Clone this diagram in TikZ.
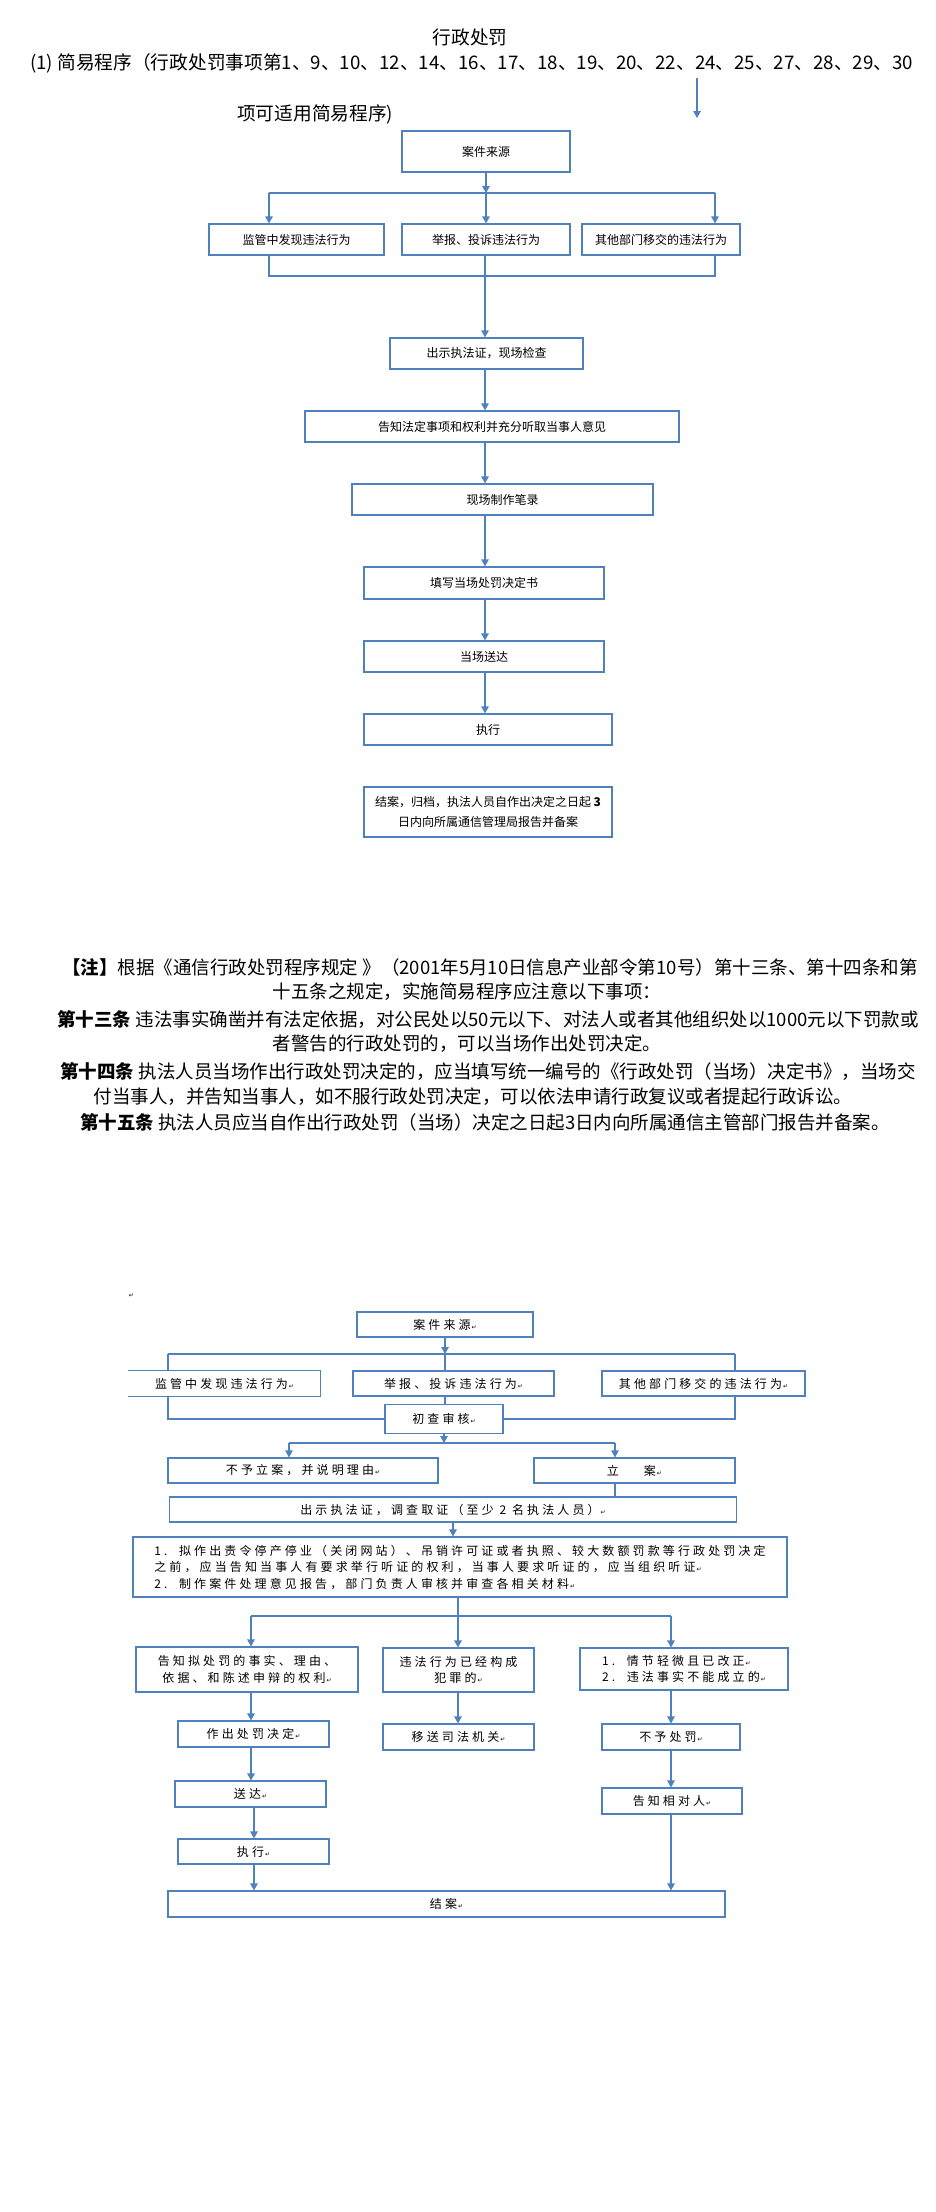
\documentclass[tikz,border=0pt]{standalone}
\usepackage{fontspec}
\setmainfont{Noto Sans CJK SC}
\newfontfamily\widecjk[LetterSpace=26]{Noto Sans CJK SC}
\newfontfamily\symfont{DejaVu Sans}
\usetikzlibrary{arrows.meta}
\definecolor{boxblue}{HTML}{4F81BD}
\newcommand\fsz[2]{\fontsize{#1pt}{#2pt}\selectfont}
\newcommand\parmk{{\symfont\fontsize{6pt}{6pt}\selectfont\,↵}}
\tikzset{
  txt/.style={inner sep=0pt},
  headtext/.style={inner sep=0pt, font=\fsz{18.7}{22}},
  notetext/.style={inner sep=0pt, font=\fsz{18.5}{22}},
  box/.style={draw=boxblue, line width=1.2pt, inner sep=2pt, align=center, font=\fsz{12}{20}},
  lowbox/.style={draw=boxblue, line width=1.1pt, inner sep=2pt, align=center, font=\widecjk\fsz{12}{16.5}},
  arr/.style={draw=boxblue, line width=1.2pt, -{Triangle[width=7.5pt,length=7pt]}},
  link/.style={draw=boxblue, line width=1.2pt},
}
\begin{document}
\begin{tikzpicture}[x=1pt,y=-1pt]
    \useasboundingbox (0,0) rectangle (935,2212);

% Heading
    \node[headtext] (title) at (470,37) {行政处罚};
    \node[headtext, anchor=west] (scope1) at (30,63) {(1) 简易程序（行政处罚事项第1、9、10、12、14、16、17、18、19、20、22、24、25、27、28、29、30};
    \node[headtext, anchor=west] (scope2) at (237,114) {项可适用简易程序)};
    \coordinate (strayA) at (697,78);
    \coordinate (strayB) at (697,118);
    \draw[arr] (strayA) -- (strayB);

% Simple procedure
    \node[box, minimum width=168pt, minimum height=41pt] (src) at (486,151.5) {案件来源};
    \node[box, minimum width=175pt, minimum height=31pt] (find) at (296.5,239.5) {监管中发现违法行为};
    \node[box, minimum width=168pt, minimum height=31pt] (report) at (486,239.5) {举报、投诉违法行为};
    \node[box, minimum width=158pt, minimum height=31pt] (transfer) at (661,239.5) {其他部门移交的违法行为};
    \node[box, minimum width=193pt, minimum height=31pt] (show) at (486.5,353.5) {出示执法证，现场检查};
    \node[box, minimum width=374pt, minimum height=31pt] (inform) at (492,426.5) {告知法定事项和权利并充分听取当事人意见};
    \node[box, minimum width=301pt, minimum height=31pt] (record) at (502.5,499.5) {现场制作笔录};
    \node[box, minimum width=240pt, minimum height=32pt] (fill) at (484,583) {填写当场处罚决定书};
    \node[box, minimum width=240pt, minimum height=31pt] (deliver) at (484,656.5) {当场送达};
    \node[box, minimum width=248pt, minimum height=31pt] (exec) at (488,729.5) {执行};
    \node[box, minimum width=248pt, minimum height=50pt] (close) at (488,812) {结案，归档，执法人员自作出决定之日起 \textbf{3}\\日内向所属通信管理局报告并备案};

    % fork and merge
    \coordinate (fkL) at (269,193);
    \coordinate (fkM) at (486,193);
    \coordinate (fkR) at (715,193);
    \coordinate (mgL) at (269,276);
    \coordinate (mgR) at (715,276);
    \coordinate (col) at (485,0);
    \draw[arr] (src.south) -- (fkM);
    \draw[link] (fkL) -- (fkR);
    \draw[arr] (fkL) -- (fkL |- find.north);
    \draw[arr] (fkM) -- (fkM |- report.north);
    \draw[arr] (fkR) -- (fkR |- transfer.north);
    \draw[link] (fkL |- find.south) -- (mgL) -- (mgR) -- (fkR |- transfer.south);
    % main column
    \draw[arr] (report.south -| col) -- (col |- show.north);
    \draw[arr] (show.south -| col) -- (col |- inform.north);
    \draw[arr] (inform.south -| col) -- (col |- record.north);
    \draw[arr] (record.south -| col) -- (col |- fill.north);
    \draw[arr] (fill.south -| col) -- (col |- deliver.north);
    \draw[arr] (deliver.south -| col) -- (col |- exec.north);

% Note
    \node[notetext] (note1) at (490,967) {\textbf{【注】}根据《通信行政处罚程序规定 》（2001年5月10日信息产业部令第10号）第十三条、第十四条和第};
    \node[notetext] (note2) at (467,992) {十五条之规定，实施简易程序应注意以下事项：};
    \node[notetext] (note3) at (488,1019) {\textbf{第十三条} 违法事实确凿并有法定依据，对公民处以50元以下、对法人或者其他组织处以1000元以下罚款或};
    \node[notetext] (note4) at (467,1044) {者警告的行政处罚的，可以当场作出处罚决定。};
    \node[notetext] (note5) at (488,1071) {\textbf{第十四条} 执法人员当场作出行政处罚决定的，应当填写统一编号的《行政处罚（当场）决定书》，当场交};
    \node[notetext] (note6) at (473,1097) {付当事人，并告知当事人，如不服行政处罚决定，可以依法申请行政复议或者提起行政诉讼。};
    \node[notetext] (note7) at (485,1122) {\textbf{第十五条} 执法人员应当自作出行政处罚（当场）决定之日起3日内向所属通信主管部门报告并备案。};

% General procedure
    \node[txt] (strayMk) at (131,1296) {\parmk};
    \node[lowbox, minimum width=176pt, minimum height=25pt] (src2) at (445,1324.5) {案件来源\parmk};
    \node[lowbox, draw=none, minimum width=191pt, minimum height=25pt] (find2) at (224.5,1383.5) {监管中发现违法行为\parmk};
    \draw[link] (find2.north west) -- (find2.north east) -- (find2.south east) -- (find2.south west);
    \node[lowbox, minimum width=201pt, minimum height=25pt] (report2) at (453.5,1383.5) {举报、投诉违法行为\parmk};
    \node[lowbox, minimum width=203pt, minimum height=25pt] (transfer2) at (703.5,1383.5) {其他部门移交的违法行为\parmk};
    \node[lowbox, minimum width=118pt, minimum height=29pt] (check) at (444,1419) {初查审核\parmk};
    \node[lowbox, minimum width=270pt, minimum height=25pt] (noreg) at (303,1470.5) {不予立案，并说明理由\parmk};
    \node[lowbox, minimum width=201pt, minimum height=25pt] (reg) at (634.5,1470.5) {立\hspace{25pt}案\parmk};
    \node[lowbox, minimum width=567pt, minimum height=25pt] (invest) at (453,1509.5) {出示执法证，调查取证（至少 2 名执法人员）\parmk};
    \node[lowbox, align=left, minimum width=654pt, minimum height=60pt] (review) at (460,1567) {1.\ \ 拟作出责令停产停业（关闭网站）、吊销许可证或者执照、较大数额罚款等行政处罚决定\\之前，应当告知当事人有要求举行听证的权利，当事人要求听证的，应当组织听证\parmk\\2.\ \ 制作案件处理意见报告，部门负责人审核并审查各相关材料\parmk};
    \node[lowbox, minimum width=222pt, minimum height=45pt] (tell) at (247,1669.5) {告知拟处罚的事实、理由、\\依据、和陈述申辩的权利\parmk};
    \node[lowbox, minimum width=151pt, minimum height=44pt] (crime) at (458.5,1670) {违法行为已经构成\\犯罪的\parmk};
    \node[lowbox, align=left, minimum width=208pt, minimum height=42pt] (minor) at (684,1669) {1.\ \ 情节轻微且已改正\parmk\\2.\ \ 违法事实不能成立的\parmk};
    \node[lowbox, minimum width=151pt, minimum height=26pt] (decide) at (253.5,1734) {作出处罚决定\parmk};
    \node[lowbox, minimum width=151pt, minimum height=26pt] (judicial) at (458.5,1737) {移送司法机关\parmk};
    \node[lowbox, minimum width=138pt, minimum height=26pt] (nopen) at (671,1737) {不予处罚\parmk};
    \node[lowbox, minimum width=151pt, minimum height=26pt] (serve) at (250.5,1794) {送达\parmk};
    \node[lowbox, minimum width=151pt, minimum height=25pt] (exec2) at (253.5,1851.5) {执行\parmk};
    \node[lowbox, minimum width=140pt, minimum height=26pt] (notify) at (672,1801) {告知相对人\parmk};
    \node[lowbox, minimum width=557pt, minimum height=26pt] (close2) at (446.5,1904) {结案\parmk};

    % source fork
    \coordinate (bfL) at (168,1354);
    \coordinate (bfM) at (445,1354);
    \coordinate (bfR) at (735,1354);
    \draw[arr] (src2.south) -- (bfM);
    \draw[link] (bfL) -- (bfR);
    \draw[link] (bfL) -- (bfL |- find2.north);
    \draw[link] (bfM) -- (bfM |- report2.north);
    \draw[link] (bfR) -- (bfR |- transfer2.north);
    \draw[link] (bfL |- find2.south) |- (check.west);
    \draw[link] (bfR |- transfer2.south) |- (check.east);
    \draw[link] (bfM |- report2.south) -- (bfM |- check.north);
    % filing fork
    \coordinate (cfL) at (289,1443);
    \coordinate (cfM) at (444,1443);
    \coordinate (cfR) at (615,1443);
    \draw[arr] (check.south) -- (cfM);
    \draw[link] (cfL) -- (cfR);
    \draw[arr] (cfL) -- (cfL |- noreg.north);
    \draw[arr] (cfR) -- (cfR |- reg.north);
    \draw[link] (cfR |- reg.south) -- (cfR |- invest.north);
    \draw[arr] (invest.south) -- (invest.south |- review.north);
    % outcome fork
    \coordinate (rfL) at (251,1616);
    \coordinate (rfM) at (458,1616);
    \coordinate (rfR) at (671,1616);
    \coordinate (lcol) at (254,0);
    \draw[link] (review.south -| rfM) -- (rfM);
    \draw[link] (rfL) -- (rfR);
    \draw[arr] (rfL) -- (rfL |- tell.north);
    \draw[arr] (rfM) -- (rfM |- crime.north);
    \draw[arr] (rfR) -- (rfR |- minor.north);
    \draw[arr] (tell.south -| rfL) -- (rfL |- decide.north);
    \draw[arr] (crime.south -| rfM) -- (rfM |- judicial.north);
    \draw[arr] (minor.south -| rfR) -- (rfR |- nopen.north);
    \draw[arr] (decide.south -| rfL) -- (rfL |- serve.north);
    \draw[arr] (serve.south -| lcol) -- (lcol |- exec2.north);
    \draw[arr] (exec2.south -| lcol) -- (lcol |- close2.north);
    \draw[arr] (nopen.south -| rfR) -- (rfR |- notify.north);
    \draw[arr] (notify.south -| rfR) -- (rfR |- close2.north);
\end{tikzpicture}
\end{document}
